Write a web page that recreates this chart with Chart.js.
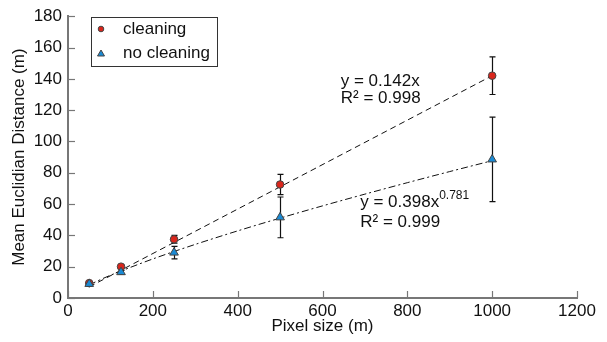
<!DOCTYPE html>
<html>
<head>
<meta charset="utf-8">
<script src="https://cdn.jsdelivr.net/npm/chart.js@4.4.0/dist/chart.umd.min.js"></script>
<style>
  html, body { margin: 0; padding: 0; background: #fff; }
  #wrap { width: 607px; height: 342px; }
</style>
</head>
<body>
<div id="wrap"><canvas id="chart"></canvas></div>
<script>
// data
const pixelSizes = [50, 125, 250, 500, 1000];
const cleaningMean = [9.5, 20, 37.5, 72.5, 142];
const cleaningErr = [1, 1, 2.5, 6.5, 12];
const noCleaningMean = [9, 16.5, 29, 51.5, 88.5];
const noCleaningErr = [1, 1.2, 4, 13, 27];

// trend lines (values of the fitted curves shown on the figure)
const linearFitX = [50, 1000];
const linearFitY = [7.1, 142];
const powerFitX = [50, 100, 200, 300, 400, 500, 600, 700, 800, 900, 1000];
const powerFitY = [8.44, 14.52, 24.95, 34.24, 42.87, 51.03, 58.84, 66.35, 73.66, 80.77, 87.7];

const xTicks = [0, 200, 400, 600, 800, 1000, 1200];
const yTicks = [0, 20, 40, 60, 80, 100, 120, 140, 160, 180];

const seriesNames = ["cleaning", "no cleaning"];
const fontFamily = "'Liberation Sans', Arial, sans-serif";
const red = "#d9261c";
const blue = "#1a8ad4";
const edge = "#444";

function toPoints(xs, ys) {
  return xs.map((x, i) => ({ x: x, y: ys[i] }));
}

// error bars, drawn behind the markers
const errorBars = {
  id: "errorBars",
  beforeDatasetsDraw(chart) {
    const { ctx, scales } = chart;
    ctx.save();
    ctx.strokeStyle = "#111";
    ctx.lineWidth = 1.2;
    [[cleaningMean, cleaningErr], [noCleaningMean, noCleaningErr]].forEach(([means, errs]) => {
      pixelSizes.forEach((x, i) => {
        const px = Math.round(scales.x.getPixelForValue(x)) + 0.5;
        const top = scales.y.getPixelForValue(means[i] + errs[i]);
        const bot = scales.y.getPixelForValue(means[i] - errs[i]);
        ctx.beginPath();
        ctx.moveTo(px, top); ctx.lineTo(px, bot);
        ctx.moveTo(px - 3, top); ctx.lineTo(px + 3, top);
        ctx.moveTo(px - 3, bot); ctx.lineTo(px + 3, bot);
        ctx.stroke();
      });
    });
    ctx.restore();
  },
};

// inward ticks, legend box, fit equations
const extras = {
  id: "extras",
  afterDraw(chart) {
    const { ctx, scales, chartArea } = chart;
    ctx.save();
    ctx.strokeStyle = "#777";
    ctx.lineWidth = 1.2;
    xTicks.forEach((v) => {
      const px = Math.round(scales.x.getPixelForValue(v)) + 0.5;
      ctx.beginPath();
      ctx.moveTo(px, chartArea.bottom);
      ctx.lineTo(px, chartArea.bottom - 7);
      ctx.stroke();
    });
    yTicks.forEach((v) => {
      const py = Math.round(scales.y.getPixelForValue(v)) + 0.5;
      ctx.beginPath();
      ctx.moveTo(chartArea.left, py);
      ctx.lineTo(chartArea.left + 7, py);
      ctx.stroke();
    });

    // legend
    ctx.strokeStyle = "#333";
    ctx.lineWidth = 1;
    ctx.strokeRect(91.5, 17.5, 126, 49);
    ctx.font = "17px " + fontFamily;
    ctx.fillStyle = "#111";
    ctx.textBaseline = "middle";
    ctx.textAlign = "left";
    ctx.fillText(seriesNames[0], 123, 29);
    ctx.fillText(seriesNames[1], 123, 53);
    ctx.fillStyle = red;
    ctx.strokeStyle = edge;
    ctx.beginPath();
    ctx.arc(101, 29, 2.8, 0, Math.PI * 2);
    ctx.fill(); ctx.stroke();
    ctx.fillStyle = blue;
    ctx.beginPath();
    ctx.moveTo(101, 50); ctx.lineTo(104.5, 56); ctx.lineTo(97.5, 56); ctx.closePath();
    ctx.fill(); ctx.stroke();

    // equations
    ctx.fillStyle = "#111";
    ctx.textBaseline = "alphabetic";
    const ex1 = scales.x.getPixelForValue(643);
    ctx.fillText("y = 0.142x", ex1, 86);
    ctx.fillText("R² = 0.998", ex1, 103);
    const ex2 = scales.x.getPixelForValue(689);
    const base = "y = 0.398x";
    ctx.fillText(base, ex2, 207);
    const w = ctx.measureText(base).width;
    ctx.font = "12px " + fontFamily;
    ctx.fillText("0.781", ex2 + w, 199);
    ctx.font = "17px " + fontFamily;
    ctx.fillText("R² = 0.999", ex2, 227);
    ctx.restore();
  },
};

new Chart(document.getElementById("chart"), {
  type: "scatter",
  data: {
    datasets: [
      {
        label: seriesNames[0],
        data: toPoints(pixelSizes, cleaningMean),
        pointStyle: "circle",
        pointRadius: 3.8,
        backgroundColor: red,
        borderColor: edge,
        borderWidth: 1,
        order: 1,
      },
      {
        label: seriesNames[1],
        data: toPoints(pixelSizes, noCleaningMean),
        pointStyle: "triangle",
        pointRadius: 5,
        backgroundColor: blue,
        borderColor: edge,
        borderWidth: 1,
        order: 0,
      },
      {
        label: "linear fit",
        type: "line",
        data: toPoints(linearFitX, linearFitY),
        borderColor: "#111",
        borderWidth: 1,
        borderDash: [6, 4],
        pointRadius: 0,
        fill: false,
        order: 3,
      },
      {
        label: "power fit",
        type: "line",
        data: toPoints(powerFitX, powerFitY),
        borderColor: "#111",
        borderWidth: 1,
        borderDash: [7, 3, 2, 3],
        pointRadius: 0,
        tension: 0.3,
        fill: false,
        order: 3,
      },
    ],
  },
  options: {
    responsive: true,
    maintainAspectRatio: false,
    animation: false,
    layout: { padding: { top: 12, right: 30, left: 0, bottom: 0 } },
    plugins: {
      legend: { display: false },
      tooltip: { enabled: false },
    },
    scales: {
      x: {
        type: "linear",
        min: 0,
        max: 1200,
        afterFit(scale) { scale.height = 44; },
        afterBuildTicks(scale) { scale.ticks = xTicks.map((v) => ({ value: v })); },
        grid: { display: false, drawTicks: false },
        border: { display: true, color: "#777", width: 2 },
        ticks: {
          color: "#111",
          padding: 3,
          maxRotation: 0,
          font: { family: fontFamily, size: 17 },
          callback: (v) => String(v),
        },
        title: {
          display: true,
          text: "Pixel size (m)",
          color: "#111",
          padding: { top: 0, bottom: 5 },
          font: { family: fontFamily, size: 17 },
        },
      },
      y: {
        type: "linear",
        min: 0,
        max: 180,
        afterFit(scale) { scale.width = 68; },
        afterBuildTicks(scale) { scale.ticks = yTicks.map((v) => ({ value: v })); },
        grid: { display: false, drawTicks: false },
        border: { display: true, color: "#777", width: 2 },
        ticks: {
          color: "#111",
          padding: 6,
          font: { family: fontFamily, size: 17 },
          callback: (v) => String(v),
        },
        title: {
          display: true,
          text: "Mean Euclidian Distance (m)",
          color: "#111",
          padding: { top: 9, bottom: 0 },
          font: { family: fontFamily, size: 17 },
        },
      },
    },
  },
  plugins: [errorBars, extras],
});
</script>
</body>
</html>
